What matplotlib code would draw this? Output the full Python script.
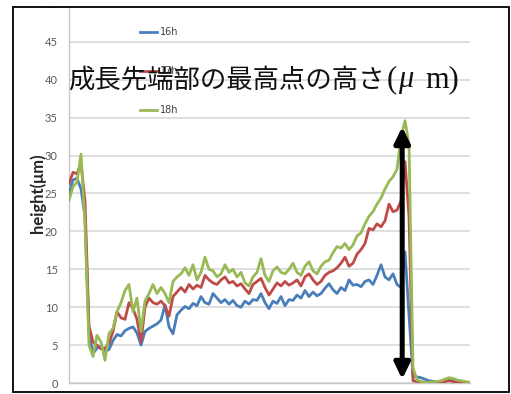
import matplotlib
matplotlib.use("Agg")
import matplotlib.pyplot as plt
from matplotlib.patches import Rectangle
import numpy as np

# Sample positions along the measured profile
position = np.arange(101)

# Height profiles (µm) for each growth time
h16 = [25.0, 26.8, 27.0, 25.6, 22.0, 6.5, 3.9, 4.6, 4.8, 4.2,
       4.4, 5.6, 6.4, 6.2, 6.9, 7.2, 7.4, 6.6, 5.0, 6.8,
       7.2, 7.5, 7.8, 8.3, 10.3, 7.4, 6.5, 9.0, 9.6, 10.1,
       9.8, 10.5, 10.2, 11.4, 10.6, 10.4, 11.8, 11.2, 10.6, 11.0,
       10.4, 10.9, 10.2, 10.0, 10.8, 10.4, 11.0, 10.9, 11.8, 10.6,
       9.8, 10.8, 10.5, 11.4, 10.2, 11.0, 10.9, 11.6, 11.2, 12.2,
       11.4, 12.0, 11.5, 11.8, 12.5, 13.1, 12.3, 11.8, 12.6, 12.2,
       13.6, 12.9, 13.0, 12.7, 13.4, 13.6, 13.0, 14.2, 15.6, 14.0,
       13.6, 14.4, 13.0, 12.6, 17.3, 9.0, 0.9, 0.8, 0.7, 0.5,
       0.3, 0.2, 0.1, 0.1, 0.3, 0.6, 0.5, 0.3, 0.2, 0.1, 0.0]

h17 = [26.3, 27.8, 27.6, 29.0, 24.0, 7.5, 5.4, 5.0, 4.5, 4.6,
       5.2, 6.8, 9.4, 8.6, 8.4, 10.6, 9.8, 8.4, 5.4, 10.0,
       11.2, 10.6, 10.4, 10.8, 10.2, 8.8, 11.4, 12.0, 12.6, 12.0,
       13.0, 12.4, 12.9, 12.6, 14.2, 13.6, 13.2, 13.0, 13.6, 14.0,
       13.2, 13.4, 12.8, 13.1, 12.4, 11.8, 13.0, 13.4, 13.8, 12.6,
       11.6, 12.4, 13.2, 12.8, 13.4, 12.9, 13.2, 13.6, 12.8, 14.0,
       14.4, 13.6, 13.0, 13.4, 14.2, 14.6, 14.8, 15.2, 15.8, 16.6,
       15.4, 15.8, 17.0, 17.6, 18.4, 20.4, 20.2, 21.0, 20.6, 21.4,
       23.6, 22.6, 22.8, 24.0, 29.2, 22.0, 0.3, 0.2, 0.1, 0.1,
       0.1, 0.1, 0.1, 0.1, 0.2, 0.3, 0.2, 0.1, 0.1, 0.1, 0.0]

h18 = [24.1, 25.9, 26.5, 30.2, 21.0, 5.0, 3.5, 6.3, 5.4, 3.0,
       6.5, 7.2, 9.4, 10.6, 12.2, 13.0, 9.4, 11.2, 6.8, 10.8,
       11.8, 13.0, 11.8, 12.6, 11.8, 10.6, 13.4, 14.0, 14.4, 15.2,
       14.2, 15.6, 13.6, 14.6, 16.6, 15.0, 14.8, 14.0, 14.4, 15.6,
       14.6, 15.0, 14.0, 14.6, 13.2, 12.8, 14.0, 14.6, 16.4, 14.2,
       13.4, 14.8, 15.3, 14.6, 14.4, 15.0, 15.8, 14.6, 14.2, 15.4,
       16.0, 14.8, 14.4, 15.4, 16.0, 16.2, 17.2, 18.0, 17.8, 18.4,
       17.6, 18.2, 19.4, 19.8, 21.0, 22.0, 22.6, 23.6, 24.4, 25.6,
       26.6, 27.2, 28.2, 32.4, 34.6, 31.5, 2.0, 0.4, 0.2, 0.1,
       0.1, 0.1, 0.2, 0.3, 0.5, 0.7, 0.6, 0.4, 0.3, 0.2, 0.1]

series_labels = ["16h", "17h", "18h"]
series_colors = ["#4a7ebb", "#be4b48", "#98b954"]

# Position and height range of the highest point of the growing tip
tip_position = 83.3
tip_range = (33.8, 0.5)

y_ticks = list(range(0, 51, 5))

W, H = 511, 394
fig = plt.figure(figsize=(W / 100, H / 100), dpi=100)
fig.patch.set_facecolor("white")

ax = fig.add_axes([69 / W, 11 / H, 401 / W, 379 / H])
for vals, lab, col in zip([h16, h17, h18], series_labels, series_colors):
    ax.plot(position, vals, color=col, lw=2.0, label=lab, zorder=3,
            solid_joinstyle="round")

ax.set_xlim(0, 100.25)
ax.set_ylim(0, 50)
ax.set_yticks(y_ticks)
ax.set_yticklabels([str(t) for t in y_ticks], fontsize=8, color="#595959",
                   family="Lato")
ax.set_xticks([])
ax.tick_params(axis="y", length=0, pad=8)
ax.grid(axis="y", color="#d9d9d9", lw=1.2)
ax.set_axisbelow(True)
for side in ["top", "right"]:
    ax.spines[side].set_visible(False)
for side in ["left", "bottom"]:
    ax.spines[side].set_color("#c8c8c8")
    ax.spines[side].set_linewidth(1.0)

leg = ax.legend(loc="upper left", bbox_to_anchor=(140 / W, 1 - 27 / H),
                bbox_transform=fig.transFigure, frameon=False,
                fontsize=7, labelspacing=3.0, handlelength=1.75,
                handletextpad=0.35, borderpad=0, borderaxespad=0)
for t in leg.get_texts():
    t.set_color("#404040")
    t.set_zorder(2)

# Double-headed arrow marking the height of the highest point
ax.annotate("", xy=(tip_position, tip_range[0]), xytext=(tip_position, tip_range[1]),
            arrowprops=dict(arrowstyle="<|-|>,head_length=9.5,head_width=4.6",
                            mutation_scale=1, color="black", lw=3.6,
                            shrinkA=0, shrinkB=0),
            zorder=5)

fig.text(68 / W, 1 - 80 / H, "成長先端部の最高点の高さ", fontsize=19,
         family="Noto Sans CJK JP", color="#111111", va="center", ha="left",
         zorder=6)
fig.text(387 / W, 1 - 80 / H, "(", fontsize=22, family="Liberation Serif",
         color="#111111", va="center", ha="left", zorder=6)
fig.text(398 / W, 1 - 80 / H, "μ", fontsize=22, family="Liberation Serif",
         style="italic", color="#111111", va="center", ha="left", zorder=6)
fig.text(425 / W, 1 - 80 / H, "m)", fontsize=22, family="Liberation Serif",
         color="#111111", va="center", ha="left", zorder=6)

fig.text(38 / W, 1 - 193 / H, "height(μm)", rotation=90, fontsize=12,
         fontweight="bold", family="Lato", color="#262626",
         va="center", ha="center")

# White margin above the frame, then the frame itself
fig.patches.append(Rectangle((0, 1 - 7 / H), 1, 7 / H, transform=fig.transFigure,
                             facecolor="white", edgecolor="none", zorder=10))
fig.patches.append(Rectangle((13 / W, 1 - 392 / H), (509 - 13) / W, (392 - 7) / H,
                             transform=fig.transFigure, fill=False,
                             edgecolor="black", lw=1.3, zorder=11))

fig.savefig("out.png", dpi=100, facecolor="white")
